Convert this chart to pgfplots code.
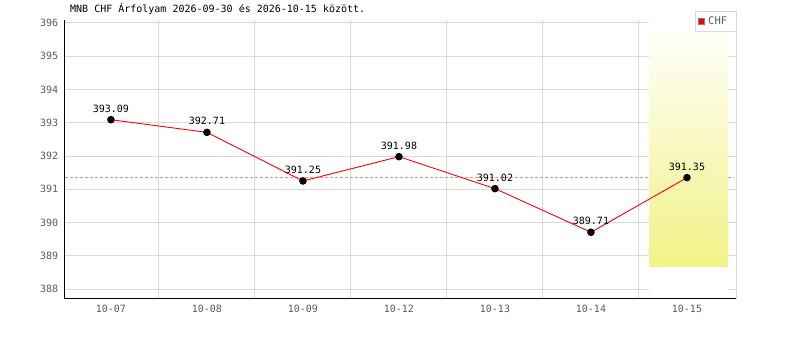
\documentclass[border=0pt]{standalone}
\usepackage{fontspec}
\setmainfont{DejaVu Sans Mono}
\usepackage{pgfplots}
\pgfplotsset{compat=1.18}
\definecolor{gridgray}{HTML}{D9D9D9}
\definecolor{ticktext}{HTML}{5A5A5A}
\definecolor{hiyellow}{HTML}{F2F288}
\definecolor{dashred}{HTML}{FF8888}
\begin{document}
\begin{tikzpicture}
\useasboundingbox (-64.3bp,-41.5bp) rectangle (735.7bp,298.5bp);
\begin{axis}[
  at={(0,0)}, anchor=south west,
  scale only axis, width=672.4bp, height=279bp,
  xmin=-0.486, xmax=6.518, ymin=387.72, ymax=396.1,
  axis x line*=bottom, axis y line*=left,
  axis line style={-, black, line width=1bp},
  xtick={0,...,6}, xticklabels={10-07,10-08,10-09,10-12,10-13,10-14,10-15},
  minor xtick={0.5,1.5,2.5,3.5,4.5,5.5},
  ytick={388,...,396},
  xmajorgrids=false, xminorgrids=true, ymajorgrids=true,
  grid style={gridgray, line width=1bp},
  minor grid style={gridgray, line width=1bp},
  major tick length=0pt, minor tick length=0pt,
  tick label style={font=\fontsize{10bp}{12bp}\selectfont, text=ticktext},
  xticklabel style={yshift=-3bp},
  yticklabel style={xshift=-2.7bp},
  /pgf/number format/assume math mode=true,
  title={MNB CHF Árfolyam 2026-09-30 és 2026-10-15 között.},
  title style={at={(0,1)}, anchor=base west, inner sep=0pt, xshift=5.7bp, yshift=1.3bp, font=\fontsize{10bp}{12bp}\selectfont},
  legend style={at={(1,1.0297)}, anchor=north east, draw=gridgray, line width=1bp, fill=white,
    font=\fontsize{10.5bp}{12bp}\selectfont, text=ticktext, inner sep=0pt, nodes={inner sep=0pt},
    /tikz/every even column/.append style={column sep=0pt}},
  clip=false,
]
\addplot[draw=none, fill=white, forget plot] coordinates {(5.604,387.74) (5.604,396.1) (6.427,396.1) (6.427,387.74)} -- cycle;
\addplot[draw=none, top color=white, bottom color=hiyellow, forget plot] coordinates {(5.604,388.68) (5.604,396.1) (6.427,396.1) (6.427,388.68)} -- cycle;
\addplot[color=dashred, solid, dash pattern=on 3bp off 2bp, line width=1bp, mark=none, forget plot] coordinates {(-0.48,391.35) (5.604,391.35)};
\addplot[color=dashred, solid, dash pattern=on 3bp off 2bp, line width=1bp, mark=none, forget plot] coordinates {(6.427,391.35) (6.48,391.35)};
\addplot[red, line width=0.9bp, mark=*, mark size=3.3bp, mark options={fill=black, draw=black, solid},
  nodes near coords={\pgfmathprintnumber[fixed,zerofill,precision=2]{\pgfplotspointmeta}},
  every node near coord/.append style={font=\fontsize{10bp}{12bp}\selectfont, text=black, anchor=south, inner sep=1bp, yshift=6bp},
  legend image code/.code={\path[draw=none, fill=none] (0bp,-10bp) rectangle (12.7bp,10bp); \draw[fill=red, draw=gray, line width=0.8bp] (3.3bp,-3bp) rectangle (9.3bp,3bp);}]
  coordinates {(0,393.09) (1,392.71) (2,391.25) (3,391.98) (4,391.02) (5,389.71) (6,391.35)};
\addlegendentry{CHF\hspace*{9bp}}
\draw[gridgray, line width=1bp] (rel axis cs:1,0) -- (rel axis cs:1,0.959);
\end{axis}
\end{tikzpicture}
\end{document}
